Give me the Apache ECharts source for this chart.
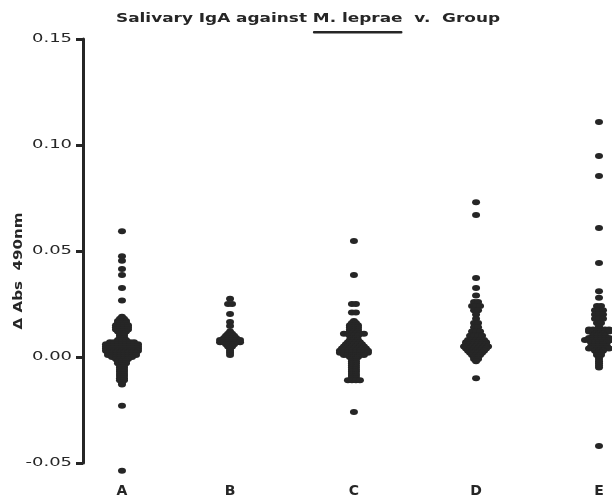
<!DOCTYPE html>
<html>
<head>
<meta charset="utf-8">
<script src="https://cdn.jsdelivr.net/npm/echarts@6/dist/echarts.min.js"></script>
<style>
html,body{margin:0;padding:0;background:#fff;}
#chart{width:612px;height:503px;}
</style>
</head>
<body>
<div id="chart"></div>
<script>
// ---- data ----
const groupNames = ['A', 'B', 'C', 'D', 'E'];
// horizontal slot of each group on the x value axis
const groupSlot = [0, 0.906, 1.945, 2.969, 4.0];
const yTicks = [-0.05, 0.00, 0.05, 0.10, 0.15];
const yTickLabels = ['-0.05', '0.00', '0.05', '0.10', '0.15'];
const titleText = 'Salivary IgA against M. leprae  v.  Group';
const titleUnderlined = 'M. leprae';
const yAxisTitle = 'Δ Abs  490nm';

// each row: [Δ Abs 490nm value, number of subjects at that value]
const groupA = [
  [0.0593,1],[0.0475,1],[0.0454,1],[0.0415,1],[0.0387,1],[0.0325,1],[0.0266,1],
  [0.019,1],[0.018,2],[0.017,3],[0.016,3],[0.015,4],[0.014,4],[0.013,4],[0.012,3],
  [0.011,2],[0.010,2],[0.009,2],[0.008,3],[0.007,7],[0.006,9],[0.005,9],[0.004,9],
  [0.003,9],[0.002,8],[0.001,8],[0.000,6],[-0.001,4],[-0.002,3],[-0.003,3],[-0.004,2],
  [-0.005,2],[-0.006,2],[-0.007,2],[-0.008,2],[-0.009,2],[-0.010,2],[-0.011,2],
  [-0.012,1],[-0.013,1],[-0.023,1],[-0.0536,1]
];
const groupB = [
  [0.0275,1],[0.025,2],[0.0203,1],[0.0165,1],[0.0146,1],
  [0.012,1],[0.011,2],[0.010,3],[0.009,4],[0.008,6],[0.007,6],[0.006,3],[0.005,2],
  [0.004,1],[0.003,1],[0.002,1],[0.001,1]
];
const groupC = [
  [0.0547,1],[0.0387,1],[0.025,2],[0.021,2],
  [0.017,1],[0.016,2],[0.015,3],[0.014,3],[0.013,3],[0.012,3],[0.011,6],[0.010,3],
  [0.009,2],[0.008,3],[0.007,4],[0.006,5],[0.005,6],[0.004,7],[0.003,8],[0.002,8],
  [0.001,6],[0.000,3],[-0.001,2],[-0.002,2],[-0.003,2],[-0.004,2],[-0.005,2],
  [-0.006,2],[-0.007,2],[-0.008,2],[-0.009,2],[-0.010,2],[-0.011,4],[-0.026,1]
];
const groupD = [
  [0.073,1],[0.067,1],[0.0373,1],[0.0325,1],[0.029,1],
  [0.026,2],[0.024,3],[0.022,2],[0.020,1],[0.018,1],[0.016,2],[0.014,2],[0.012,3],
  [0.010,4],[0.008,5],[0.007,6],[0.006,6],[0.005,7],[0.004,6],[0.003,5],[0.002,4],
  [0.001,3],[0.000,2],[-0.001,2],[-0.002,1],[-0.010,1]
];
const groupE = [
  [0.1108,1],[0.0948,1],[0.0854,1],[0.0608,1],[0.0443,1],[0.031,1],[0.028,1],
  [0.024,2],[0.022,3],[0.020,3],[0.018,3],[0.016,2],[0.0145,1],[0.013,6],[0.012,6],
  [0.011,3],[0.010,4],[0.009,6],[0.008,8],[0.007,5],[0.006,3],[0.005,5],[0.004,6],
  [0.003,3],[0.002,2],[0.001,2],[0.000,1],[-0.001,1],[-0.002,1],[-0.003,1],
  [-0.004,1],[-0.005,1],[-0.042,1]
];
const groups = [groupA, groupB, groupC, groupD, groupE];

// ---- layout / style ----
const INK = '#262626';
const DOT_STEP = 4; // px between side-by-side dots of the same value
const TITLE_FONT = 'bold 12px "DejaVu Sans"';
const TICK_FONT = '13px "DejaVu Sans"';
const NAME_FONT = 'bold 12px "DejaVu Sans"';

const mctx = document.createElement('canvas').getContext('2d');
function textW(str, font) { mctx.font = font; return mctx.measureText(str).width; }

function buildData(rows, slot) {
  const out = [];
  rows.forEach(function (r) {
    const v = r[0], n = r[1];
    for (let i = 0; i < n; i++) {
      out.push({ value: [slot, v], symbolOffset: [(i - (n - 1) / 2) * DOT_STEP, 0] });
    }
  });
  return out;
}

const chart = echarts.init(document.getElementById('chart'), null, { renderer: 'canvas' });

const series = groups.map(function (rows, gi) {
  return {
    type: 'scatter',
    name: groupNames[gi],
    data: buildData(rows, groupSlot[gi]),
    symbol: 'circle',
    symbolSize: [8, 6],
    itemStyle: { color: INK, opacity: 1 },
    clip: false,
    silent: true,
    animation: false
  };
});

chart.setOption({
  animation: false,
  backgroundColor: '#ffffff',
  grid: { left: 83, right: 0, top: 39, bottom: 40, containLabel: false },
  xAxis: {
    type: 'value',
    min: -0.327, max: 4.109,
    axisLine: { show: false },
    axisTick: { show: false },
    splitLine: { show: false },
    axisLabel: {
      customValues: groupSlot,
      formatter: function (v) {
        const i = groupSlot.findIndex(function (s) { return Math.abs(s - v) < 1e-6; });
        return i >= 0 ? groupNames[i] : '';
      },
      margin: 21, color: INK, fontWeight: 'bold', fontSize: 14, fontFamily: 'DejaVu Sans'
    }
  },
  yAxis: {
    type: 'value',
    min: yTicks[0], max: yTicks[yTicks.length - 1], interval: yTicks[1] - yTicks[0],
    axisLine: { show: true, onZero: false, lineStyle: { color: INK, width: 3 } },
    axisTick: { show: true, length: 7, lineStyle: { color: INK, width: 3 } },
    splitLine: { show: false },
    axisLabel: { show: false }
  },
  series: series
});

// ---- texts drawn with the reference's wide letter set ----
const graphics = [];
// title
const titleLeft = 116, titleRight = 500;
const tW = textW(titleText, TITLE_FONT);
const tScale = (titleRight - titleLeft) / tW;
graphics.push({
  type: 'text', x: titleLeft, y: 19, scaleX: tScale, scaleY: 1.05,
  style: { text: titleText, font: TITLE_FONT, fill: INK, verticalAlign: 'middle' }
});
const uStart = titleLeft + textW(titleText.slice(0, titleText.indexOf(titleUnderlined)), TITLE_FONT) * tScale;
const uWidth = textW(titleUnderlined, TITLE_FONT) * tScale;
graphics.push({
  type: 'rect', x: uStart, y: 31,
  shape: { x: 0, y: 0, width: uWidth, height: 2.5, r: 1.2 },
  style: { fill: INK }
});
// y tick labels
const yScale = 40 / textW('0.15', TICK_FONT);
yTicks.forEach(function (v, i) {
  const py = chart.convertToPixel({ yAxisIndex: 0 }, v);
  graphics.push({
    type: 'text', x: 72, y: py, scaleX: yScale,
    style: { text: yTickLabels[i], font: TICK_FONT, fill: INK, align: 'right', verticalAlign: 'middle' }
  });
});
// y axis title
const nScale = 117 / textW(yAxisTitle, NAME_FONT);
graphics.push({
  type: 'text', x: 19, y: 271, rotation: Math.PI / 2, scaleX: nScale,
  style: { text: yAxisTitle, font: NAME_FONT, fill: INK, align: 'center', verticalAlign: 'middle' }
});

chart.setOption({ graphic: graphics });
</script>
</body>
</html>
